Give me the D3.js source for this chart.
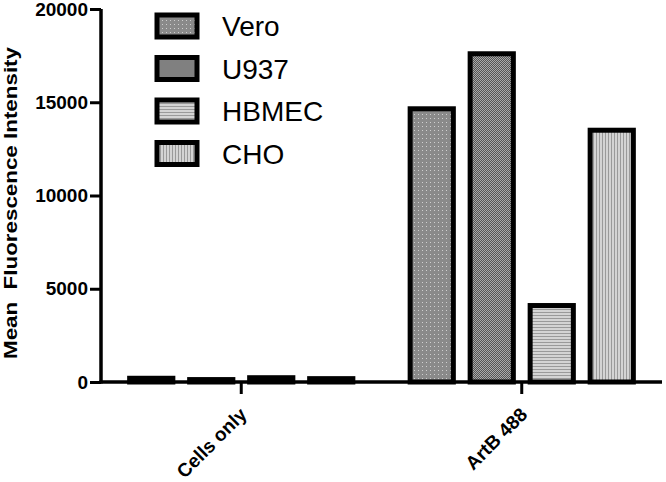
<!DOCTYPE html>
<html>
<head>
<meta charset="utf-8">
<script src="https://cdn.jsdelivr.net/npm/d3@7"></script>
<style>
  body { margin: 0; background: #fff; }
  text { font-family: "Liberation Sans", Arial, sans-serif; }
</style>
</head>
<body>
<script>
// data
var groups = ["Cells only", "ArtB 488"];
var series = ["Vero", "U937", "HBMEC", "CHO"];
var vero  = [200, 14650];
var u937  = [130, 17600];
var hbmec = [230, 4100];
var cho   = [180, 13500];
var yTicks = [0, 5000, 10000, 15000, 20000];

var values = [vero, u937, hbmec, cho];

// set the dimensions and margins of the graph
var margin = {top: 9, right: 4, bottom: 100, left: 101},
    width = 666 - margin.left - margin.right,
    height = 482 - margin.top - margin.bottom;

var svg = d3.select("body").append("svg")
    .attr("width", 666)
    .attr("height", 482);

// fill patterns
var defs = svg.append("defs");

var p0 = defs.append("pattern").attr("id", "pat0")
    .attr("patternUnits", "userSpaceOnUse").attr("width", 4).attr("height", 4);
p0.append("rect").attr("width", 4).attr("height", 4).attr("fill", "#8a8a8a");
p0.append("rect").attr("x", 1).attr("y", 1).attr("width", 1).attr("height", 1).attr("fill", "#cfcfcf");

var p1 = defs.append("pattern").attr("id", "pat1")
    .attr("patternUnits", "userSpaceOnUse").attr("width", 2).attr("height", 2);
p1.append("rect").attr("width", 2).attr("height", 2).attr("fill", "#555");
p1.append("rect").attr("width", 1).attr("height", 1).attr("fill", "#aaa");
p1.append("rect").attr("x", 1).attr("y", 1).attr("width", 1).attr("height", 1).attr("fill", "#aaa");

var p2 = defs.append("pattern").attr("id", "pat2")
    .attr("patternUnits", "userSpaceOnUse").attr("width", 3).attr("height", 3);
p2.append("rect").attr("width", 3).attr("height", 3).attr("fill", "#d4d4d4");
p2.append("rect").attr("width", 3).attr("height", 1).attr("fill", "#9a9a9a");

var p3 = defs.append("pattern").attr("id", "pat3")
    .attr("patternUnits", "userSpaceOnUse").attr("width", 3).attr("height", 3);
p3.append("rect").attr("width", 3).attr("height", 3).attr("fill", "#d4d4d4");
p3.append("rect").attr("width", 1).attr("height", 3).attr("fill", "#9a9a9a");

var g = svg.append("g")
    .attr("transform", "translate(" + margin.left + "," + margin.top + ")");

// set the ranges
var x0 = d3.scaleBand().domain(groups).range([0, width]);
var x1 = d3.scaleBand().domain(series).range([0, 240]).paddingInner(0.28).paddingOuter(0.14);
var y = d3.scaleLinear().domain([0, 20000]).range([height, 0]);

// bars
groups.forEach(function(grp, gi) {
    var off = x0(grp) + x0.bandwidth() / 2 - 120;
    series.forEach(function(s, si) {
        var v = values[si][gi];
        g.append("rect")
            .attr("x", off + x1(s))
            .attr("y", y(v))
            .attr("width", x1.bandwidth())
            .attr("height", height - y(v))
            .attr("fill", "url(#pat" + si + ")")
            .attr("stroke", "#000")
            .attr("stroke-width", 5);
    });
});

// Y axis
var yAxis = g.append("g")
    .call(d3.axisLeft(y).tickValues(yTicks).tickSize(11).tickPadding(2).tickFormat(d3.format("d")));
yAxis.select(".domain").attr("stroke-width", 3.5).attr("d", "M0," + (height + 1.5) + "V0");
yAxis.selectAll(".tick line").attr("stroke-width", 3);
yAxis.selectAll(".tick text")
    .style("font-size", "19px").style("font-weight", "bold").attr("fill", "#000");

// X axis
var xAxis = g.append("g")
    .attr("transform", "translate(0," + height + ")")
    .call(d3.axisBottom(x0).tickSize(12).tickPadding(6));
xAxis.select(".domain").attr("stroke-width", 3.5).attr("d", "M-1.5,0H" + width);
xAxis.selectAll(".tick line").attr("stroke-width", 3);
xAxis.selectAll(".tick text")
    .style("font-size", "19px").style("font-weight", "bold").attr("fill", "#000")
    .attr("text-anchor", "end")
    .attr("y", 0).attr("dy", "0.35em")
    .attr("transform", "translate(2,29) rotate(-45)");

// y-axis label
svg.append("text")
    .attr("transform", "translate(17," + 203 + ") rotate(-90)")
    .attr("text-anchor", "middle")
    .attr("textLength", 312)
    .attr("lengthAdjust", "spacingAndGlyphs")
    .style("font-size", "19px")
    .style("font-weight", "bold")
    .attr("xml:space", "preserve")
    .text("Mean  Fluorescence Intensity");

// legend
var legend = svg.append("g").attr("transform", "translate(157,15)");
series.forEach(function(s, i) {
    var row = legend.append("g").attr("transform", "translate(0," + (i * 42.5) + ")");
    row.append("rect")
        .attr("width", 40).attr("height", 22)
        .attr("fill", "url(#pat" + i + ")")
        .attr("stroke", "#000").attr("stroke-width", 5);
    row.append("text")
        .attr("x", 65).attr("y", 11)
        .attr("dy", "0.36em")
        .style("font-size", "28px")
        .text(s);
});
</script>
</body>
</html>
